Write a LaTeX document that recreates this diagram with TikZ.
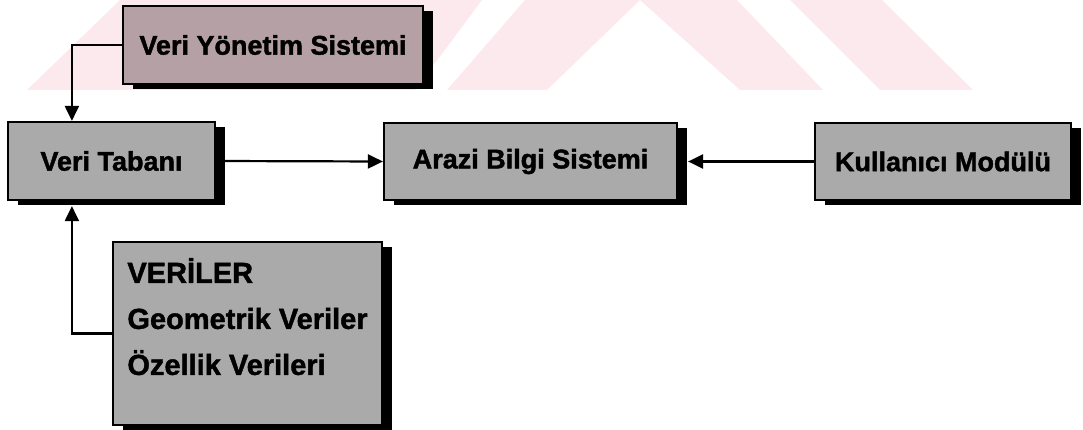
\documentclass[tikz,border=0pt]{standalone}
\usepackage{fontspec}
\setmainfont{Liberation Sans}[BoldFeatures={FakeBold=1.5}]
\usetikzlibrary{arrows.meta,shadows}
\definecolor{wmpink}{RGB}{252,233,237}
\definecolor{kutugri}{RGB}{170,170,170}
\definecolor{kutupembe}{RGB}{180,160,165}
\begin{document}
\begin{tikzpicture}[x=1pt, y=-1pt,
    kutu/.style={draw, rectangle, line width=2.2pt, fill=kutugri, font=\fontsize{27}{32}\selectfont\bfseries,
        drop shadow={shadow xshift=10pt, shadow yshift=-5pt, fill=black, opacity=1}},
    ok/.style={-{Triangle[length=15pt, width=14pt]}, line width=2.2pt}]
    \useasboundingbox (0,0) rectangle (1083,430);
    % Background
    \fill[wmpink] (27,90) -- (120,0) -- (482,0) -- (415,90) -- cycle;
    \fill[wmpink] (525,0) -- (640,0) -- (547,90) -- (447,90) -- cycle;
    \fill[wmpink] (640,0) -- (737,0) -- (823,90) -- (740,90) -- cycle;
    \fill[wmpink] (790,0) -- (882,0) -- (973,90) -- (880,90) -- cycle;

    % Nodes
    \node[kutu, fill=kutupembe, minimum width=300pt, minimum height=78pt] (vys) at (273,45) {Veri Yönetim Sistemi};
    \node[kutu, minimum width=207pt, minimum height=78pt] (vt) at (111.5,161) {Veri Tabanı\hspace{24pt}};
    \node[kutu, minimum width=293pt, minimum height=77pt] (abs) at (530.5,161.5) {Arazi Bilgi Sistemi};
    \node[kutu, minimum width=256pt, minimum height=77pt] (km) at (943,161.5) {Kullanıcı Modülü};
    \node[kutu, minimum width=269pt, minimum height=183pt, align=left,
        text depth=34pt, font=\fontsize{29}{46}\selectfont\bfseries] (veriler) at (247.5,333.5) {VERİLER\\Geometrik Veriler\\Özellik Verileri};

    % Arrows
    \draw[ok] (vys.west) -| ([xshift=65pt]vt.north west);
    \draw[ok] (veriler.west) -| ([xshift=65pt, yshift=-5pt]vt.south west);
    \draw[ok] (vt.east) -- (abs.west);
    \draw[ok] (km.west) -- ([xshift=10pt]abs.east);
\end{tikzpicture}
\end{document}
